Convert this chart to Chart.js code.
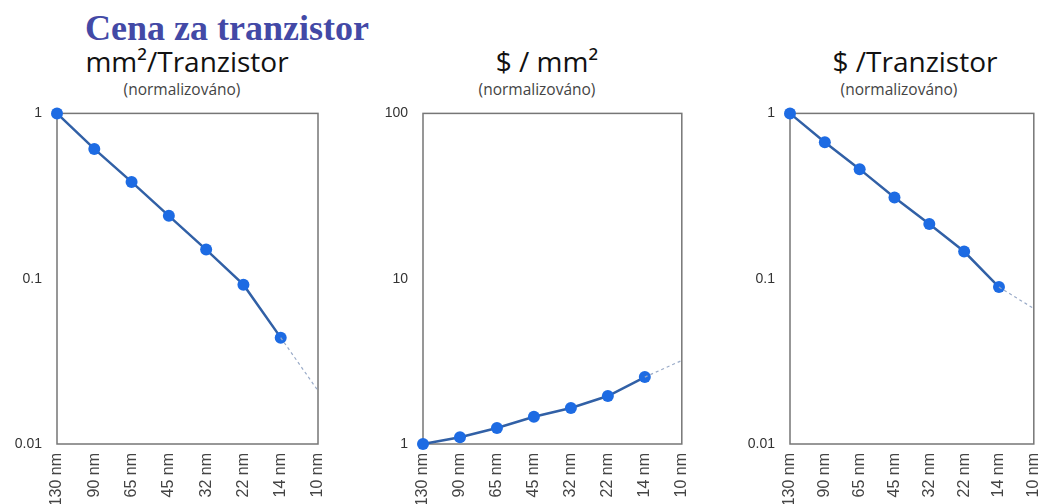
<!DOCTYPE html>
<html lang="cs">
<head>
    <meta charset="UTF-8">
    <title>Cena za tranzistor</title>
    <script src="https://cdn.jsdelivr.net/npm/chart.js"></script>
    <style>
        body {
            margin: 0;
            width: 1062px;
            height: 504px;
            overflow: hidden;
            background: #fff;
            position: relative;
            font-family: Arial, "Liberation Sans", sans-serif;
        }
        .title {
            position: absolute;
            left: 85px;
            top: 10px;
            font-family: "Liberation Serif", serif;
            font-weight: bold;
            font-size: 36px;
            color: #4349a6;
            line-height: 1;
        }
        .sub {
            position: absolute;
            width: 300px;
            text-align: center;
            font-family: "Open Sans", sans-serif;
            font-size: 28px;
            color: #111;
            line-height: 1;
        }
        .norm {
            position: absolute;
            width: 300px;
            text-align: center;
            font-family: "Open Sans", sans-serif;
            font-size: 15.5px;
            color: #444;
            line-height: 1;
        }
        canvas {
            position: absolute;
            top: 90px;
        }
    </style>
</head>
<body>

    <div class="title">Cena za tranzistor</div>

    <div class="sub" style="left:37px; top:47px;">mm²/Tranzistor</div>
    <div class="norm" style="left:32px; top:82px;">(normalizováno)</div>

    <div class="sub" style="left:397px; top:47px;">$ / mm²</div>
    <div class="norm" style="left:387px; top:82px;">(normalizováno)</div>

    <div class="sub" style="left:765px; top:47px;">$ /Tranzistor</div>
    <div class="norm" style="left:749px; top:82px;">(normalizováno)</div>

    <canvas id="areaChart" width="350" height="414" style="left:0px;"></canvas>
    <canvas id="costAreaChart" width="350" height="414" style="left:360px;"></canvas>
    <canvas id="costTrChart" width="342" height="414" style="left:720px;"></canvas>

    <script>
        const nodes = ['130 nm', '90 nm', '65 nm', '45 nm', '32 nm', '22 nm', '14 nm', '10 nm'];

        // mm2 per transistor (normalized), 130 nm .. 14 nm, then 10 nm projection
        const areaPerTr = [1, 0.61, 0.385, 0.24, 0.15, 0.092, 0.044];
        const areaPerTr10 = 0.021;
        const areaTicks = [0.01, 0.1, 1];

        // $ per mm2 (normalized)
        const costPerArea = [1, 1.10, 1.25, 1.46, 1.65, 1.95, 2.54];
        const costPerArea10 = 3.2;
        const costAreaTicks = [1, 10, 100];

        // $ per transistor (normalized)
        const costPerTr = [1, 0.67, 0.46, 0.31, 0.214, 0.146, 0.089];
        const costPerTr10 = 0.066;
        const costTrTicks = [0.01, 0.1, 1];

        const plotBox = {
            id: 'plotBox',
            beforeDatasetsDraw(chart) {
                const a = chart.chartArea;
                const c = chart.ctx;
                c.save();
                c.strokeStyle = '#767676';
                c.lineWidth = 1.5;
                c.strokeRect(a.left, a.top, a.right - a.left, a.bottom - a.top);
                c.restore();
            }
        };

        function makeChart(id, values, projected, ticks, padRight, yWidth, top) {
            const solid = values.concat([null]);
            const dashed = values.map(() => null);
            dashed[values.length - 1] = values[values.length - 1];
            dashed.push(projected);

            return new Chart(document.getElementById(id).getContext('2d'), {
                type: 'line',
                data: {
                    labels: nodes,
                    datasets: [{
                        data: dashed,
                        borderColor: '#9aabc8',
                        borderWidth: 1.2,
                        borderDash: [3, 3],
                        pointRadius: 0,
                        clip: false
                    }, {
                        data: solid,
                        borderColor: '#3160a6',
                        borderWidth: 2.5,
                        pointRadius: 6,
                        pointBackgroundColor: '#1d6be3',
                        pointBorderColor: '#1d6be3',
                        pointBorderWidth: 0,
                        clip: false
                    }]
                },
                options: {
                    responsive: false,
                    animation: false,
                    layout: { padding: { top: top, right: padRight, left: 0, bottom: 0 } },
                    plugins: {
                        legend: { display: false },
                        tooltip: { enabled: false }
                    },
                    scales: {
                        x: {
                            grid: { display: false, drawTicks: false },
                            border: { display: false },
                            ticks: {
                                minRotation: 90,
                                maxRotation: 90,
                                padding: 9,
                                autoSkip: false,
                                color: '#444',
                                font: { family: 'Arial', size: 16 }
                            },
                            afterFit: s => { s.height = 60; }
                        },
                        y: {
                            type: 'logarithmic',
                            min: ticks[0],
                            max: ticks[ticks.length - 1],
                            grid: { display: false, drawTicks: false },
                            border: { display: false },
                            afterBuildTicks: s => { s.ticks = ticks.map(v => ({ value: v })); },
                            afterFit: s => { s.width = yWidth; },
                            ticks: {
                                padding: 15,
                                color: '#333',
                                font: { family: 'Arial', size: 14 },
                                callback: v => String(v)
                            }
                        }
                    }
                },
                plugins: [plotBox]
            });
        }

        document.addEventListener('DOMContentLoaded', function () {
            makeChart('areaChart', areaPerTr, areaPerTr10, areaTicks, 32, 57, 2);
            makeChart('costAreaChart', costPerArea, costPerArea10, costAreaTicks, 26, 63, 3);
            makeChart('costTrChart', costPerTr, costPerTr10, costTrTicks, 11, 70, 2);
        });
    </script>

</body>
</html>
